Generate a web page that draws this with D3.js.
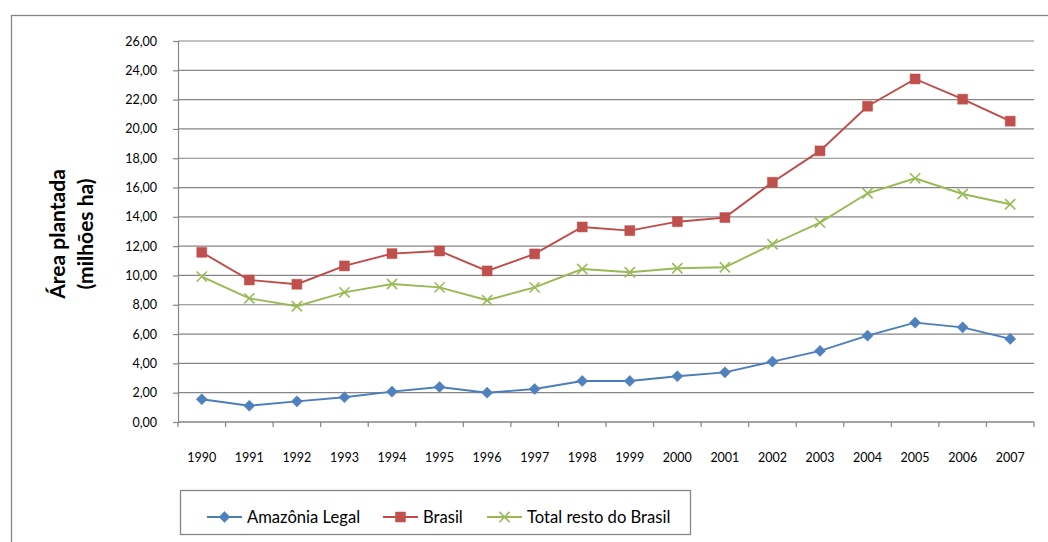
<!DOCTYPE html>
<html lang="pt">
<head>
<meta charset="utf-8" />
<title>Área plantada</title>
<script src="https://cdn.jsdelivr.net/npm/d3@7"></script>
<style>
    body { margin: 0; background: #fff; }
    text { font-family: Lato, "Open Sans", sans-serif; fill: #000; }
</style>
</head>
<body>
<script>

    // data
    const years = [1990, 1991, 1992, 1993, 1994, 1995, 1996, 1997, 1998, 1999,
                   2000, 2001, 2002, 2003, 2004, 2005, 2006, 2007];
    const amazonia = [1.55, 1.11, 1.41, 1.69, 2.07, 2.39, 2.00, 2.25, 2.80, 2.80,
                      3.12, 3.39, 4.12, 4.85, 5.89, 6.78, 6.46, 5.67];
    const brasil = [11.58, 9.69, 9.40, 10.65, 11.49, 11.67, 10.31, 11.47, 13.31, 13.06,
                    13.67, 13.95, 16.36, 18.50, 21.55, 23.41, 22.03, 20.53];
    const resto = [9.92, 8.44, 7.90, 8.85, 9.42, 9.19, 8.31, 9.19, 10.44, 10.22,
                   10.49, 10.56, 12.13, 13.61, 15.61, 16.63, 15.56, 14.86];
    const yTicks = d3.range(0, 27, 2);

    const series = [
        { name: 'Amazônia Legal', values: amazonia, line: '#4A7EBB', marker: '#4F81BD', shape: 'diamond' },
        { name: 'Brasil', values: brasil, line: '#BE4B48', marker: '#C0504D', shape: 'square' },
        { name: 'Total resto do Brasil', values: resto, line: '#98B954', marker: '#9BBB59', shape: 'cross' }
    ];

    const W = 1048, H = 542;
    const plot = { left: 178, right: 1034, top: 41, bottom: 422 };

    const svg = d3.select('body').append('svg')
        .attr('width', W)
        .attr('height', H);

    // outer chart frame (right and bottom edges fall outside the picture)
    svg.append('rect')
        .attr('x', 11.5).attr('y', 15.5)
        .attr('width', W + 20).attr('height', H + 20)
        .attr('fill', 'none')
        .attr('stroke', '#868686')
        .attr('stroke-width', 1.3);

    const x = d3.scaleBand()
        .domain(years)
        .range([plot.left, plot.right]);

    const y = d3.scaleLinear()
        .domain([0, 26])
        .range([plot.bottom, plot.top]);

    // gridlines
    svg.append('g')
        .selectAll('line')
        .data(yTicks)
        .enter().append('line')
        .attr('x1', plot.left).attr('x2', plot.right)
        .attr('y1', d => y(d)).attr('y2', d => y(d))
        .attr('stroke', '#868686')
        .attr('stroke-width', 1.2);

    // y axis
    const yAxis = d3.axisLeft(y)
        .tickValues(yTicks)
        .tickSize(5)
        .tickPadding(16)
        .tickFormat(d => d3.format('.2f')(d).replace('.', ','));

    svg.append('g')
        .attr('class', 'y-axis')
        .attr('transform', `translate(${plot.left},0)`)
        .call(yAxis)
        .call(g => g.selectAll('path, line').attr('stroke', '#868686').attr('stroke-width', 1.2))
        .call(g => g.selectAll('text').style('font-size', '12.5px').style('font-family', 'Lato, sans-serif'));

    // x axis: ticks on category boundaries, labels centred in bands
    const bounds = years.map(d => x(d)).concat([plot.right]);
    svg.append('line')
        .attr('x1', plot.left).attr('x2', plot.right)
        .attr('y1', plot.bottom).attr('y2', plot.bottom)
        .attr('stroke', '#868686').attr('stroke-width', 1.2);
    svg.append('g')
        .selectAll('line')
        .data(bounds)
        .enter().append('line')
        .attr('x1', d => d).attr('x2', d => d)
        .attr('y1', plot.bottom).attr('y2', plot.bottom + 5)
        .attr('stroke', '#868686').attr('stroke-width', 1.2);
    svg.append('g')
        .selectAll('text')
        .data(years)
        .enter().append('text')
        .attr('x', d => x(d) + x.bandwidth() / 2)
        .attr('y', 462)
        .attr('text-anchor', 'middle')
        .style('font-size', '12.5px')
        .text(d => d);

    // y axis title
    const title = svg.append('g')
        .attr('transform', 'translate(0,234) rotate(-90)');
    title.append('text')
        .attr('x', 0).attr('y', 65)
        .attr('text-anchor', 'middle')
        .style('font-size', '21px').style('font-weight', 'bold')
        .text('Área plantada');
    title.append('text')
        .attr('x', 0).attr('y', 93)
        .attr('text-anchor', 'middle')
        .style('font-size', '21px').style('font-weight', 'bold')
        .text('(milhões ha)');

    const cx = (d, i) => x(years[i]) + x.bandwidth() / 2;

    const symbols = {
        diamond: d3.symbol().type(d3.symbolSquare).size(62),
        square: d3.symbol().type(d3.symbolSquare).size(100),
        cross: d3.symbol().type(d3.symbolX).size(70)
    };

    function drawMarker(sel, s) {
        const p = sel.append('path')
            .attr('d', symbols[s.shape]());
        if (s.shape === 'cross') {
            p.attr('fill', 'none').attr('stroke', s.marker).attr('stroke-width', 1.6);
        } else {
            p.attr('fill', s.marker).attr('stroke', s.marker).attr('stroke-width', 0.5);
        }
        return p;
    }

    const line = d3.line()
        .x(cx)
        .y(d => y(d));

    series.forEach(s => {
        svg.append('path')
            .datum(s.values)
            .attr('d', line)
            .attr('fill', 'none')
            .attr('stroke', s.line)
            .attr('stroke-width', 1.9);

        const g = svg.append('g')
            .selectAll('g')
            .data(s.values)
            .enter().append('g')
            .attr('transform', (d, i) => `translate(${cx(d, i)},${y(d)})` + (s.shape === 'diamond' ? ' rotate(45)' : ''));
        drawMarker(g, s);
    });

    // legend
    const legend = svg.append('g');
    legend.append('rect')
        .attr('x', 180.5).attr('y', 490.5)
        .attr('width', 510).attr('height', 44)
        .attr('fill', '#fff')
        .attr('stroke', '#868686')
        .attr('stroke-width', 1.3);

    const legendX = [207, 383, 487];
    series.forEach((s, i) => {
        const lg = legend.append('g')
            .attr('transform', `translate(${legendX[i]},517)`);
        lg.append('line')
            .attr('x1', 0).attr('x2', 35)
            .attr('stroke', s.line).attr('stroke-width', 1.9);
        const m = lg.append('g')
            .attr('transform', 'translate(17.5,0)' + (s.shape === 'diamond' ? ' rotate(45)' : ''));
        drawMarker(m, s);
        lg.append('text')
            .attr('x', 40).attr('y', 6)
            .style('font-size', '16.6px')
            .text(s.name);
    });

</script>
</body>
</html>
